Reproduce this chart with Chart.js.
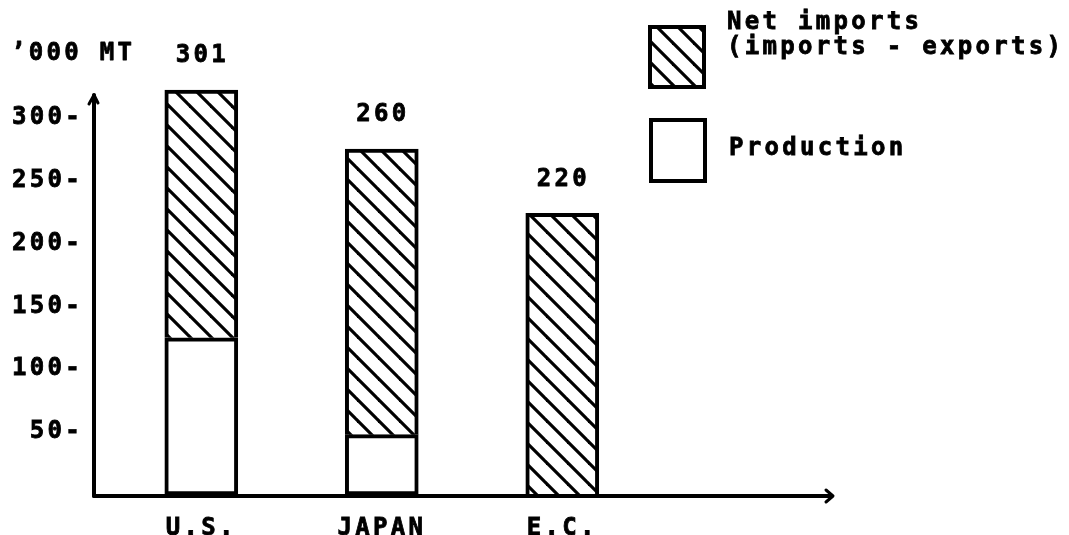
<!DOCTYPE html>
<html>
<head>
<meta charset="utf-8">
<title>Production and net imports</title>
<script src="https://cdn.jsdelivr.net/npm/chart.js@4.4.1/dist/chart.umd.min.js"></script>
<style>
  html, body { margin: 0; padding: 0; background: #fff; }
  canvas { display: block; }
</style>
</head>
<body>
<canvas id="chart" width="1069" height="535"></canvas>
<script>
// ==== Data ====
const categories = ["U.S.", "JAPAN", "E.C."];
const production = [125, 48, 0];
const netImports = [197, 227, 224];
const totalLabels = ["301", "260", "220"];
const yTicks = [50, 100, 150, 200, 250, 300];
const unitLabel = "’000 MT";
const legendNet = ["Net imports", "(imports - exports)"];
const legendProd = "Production";

// ==== Look ====
const FONT = "'DejaVu Sans Mono', 'Liberation Mono', monospace";
const FONT_SIZE = 24;
const SPACING = "3.3px";
const INK = "#000";
const LINE = 4;
const TEXT_STROKE = 0.8;

// diagonal "\\\" hatch used for the net imports
const hatch = (() => {
  const s = 21;
  const c = document.createElement("canvas");
  c.width = s; c.height = s;
  const g = c.getContext("2d");
  g.fillStyle = "#fff";
  g.fillRect(0, 0, s, s);
  g.strokeStyle = INK;
  g.lineWidth = 3.2;
  [-s, 0, s].forEach(x0 => {
    g.beginPath();
    g.moveTo(x0 - 4, -4);
    g.lineTo(x0 + s + 4, s + 4);
    g.stroke();
  });
  return g.createPattern(c, "repeat");
})();

const setSpacing = ctx => { if ("letterSpacing" in ctx) ctx.letterSpacing = SPACING; };

const text = (ctx, str, x, y, align) => {
  ctx.font = `bold ${FONT_SIZE}px ${FONT}`;
  ctx.fillStyle = INK;
  ctx.strokeStyle = INK;
  ctx.lineWidth = TEXT_STROKE;
  ctx.textAlign = align || "left";
  ctx.textBaseline = "middle";
  ctx.fillText(str, x, y);
  ctx.strokeText(str, x, y);
};

// ==== Axes with arrows, totals, unit and legend ====
const decorations = {
  id: "decorations",
  beforeLayout: chart => setSpacing(chart.ctx),
  beforeDraw: chart => setSpacing(chart.ctx),
  afterDatasetsDraw(chart) {
    const { ctx, chartArea: a } = chart;
    ctx.save();
    setSpacing(ctx);
    ctx.strokeStyle = INK;
    ctx.lineWidth = LINE;
    ctx.lineCap = "round";
    ctx.lineJoin = "round";

    // y axis
    const x0 = a.left + 1, y0 = a.bottom + 1, yTop = a.top + 15;
    ctx.beginPath();
    ctx.moveTo(x0, y0);
    ctx.lineTo(x0, yTop);
    ctx.stroke();
    ctx.lineWidth = 3;
    ctx.beginPath();
    ctx.moveTo(x0 - 5, yTop + 9);
    ctx.lineTo(x0, yTop);
    ctx.lineTo(x0 + 4, yTop + 8);
    ctx.stroke();

    // x axis
    const xEnd = a.right;
    ctx.lineWidth = LINE;
    ctx.beginPath();
    ctx.moveTo(x0, y0);
    ctx.lineTo(xEnd - 2, y0);
    ctx.stroke();
    ctx.lineWidth = 3;
    ctx.beginPath();
    ctx.moveTo(xEnd - 7, y0 - 6);
    ctx.lineTo(xEnd, y0);
    ctx.lineTo(xEnd - 7, y0 + 6);
    ctx.stroke();

    // totals above bars
    const top = chart.getDatasetMeta(1).data;
    top.forEach((bar, i) => text(ctx, totalLabels[i], bar.x + 1, bar.y - 34, "center"));

    // unit
    text(ctx, unitLabel, 11, 54);

    // legend
    ctx.strokeStyle = INK;
    ctx.lineWidth = LINE;
    ctx.lineCap = "butt";
    ctx.lineJoin = "miter";
    ctx.fillStyle = hatch;
    ctx.fillRect(649, 26, 56, 62);
    ctx.strokeRect(650, 27, 54, 60);
    ctx.fillStyle = "#fff";
    ctx.fillRect(650, 119, 56, 63);
    ctx.strokeRect(651, 120, 54, 61);
    text(ctx, legendNet[0], 727, 23);
    text(ctx, legendNet[1], 727, 48);
    text(ctx, legendProd, 729, 149);

    ctx.restore();
  }
};

// ==== Chart ====
const tickFont = { family: FONT, size: FONT_SIZE, weight: "bold" };

new Chart(document.getElementById("chart"), {
  type: "bar",
  data: {
    datasets: [
      {
        label: "Production",
        data: production.map((v, i) => ({ x: i, y: v })),
        backgroundColor: "#fff",
        borderColor: INK,
        borderWidth: LINE,
        borderSkipped: false,
        barThickness: 73
      },
      {
        label: "Net imports",
        data: netImports.map((v, i) => ({ x: i, y: v })),
        backgroundColor: hatch,
        borderColor: INK,
        borderWidth: LINE,
        borderSkipped: "start",
        barThickness: 73
      }
    ]
  },
  options: {
    responsive: false,
    animation: false,
    events: [],
    layout: { padding: { top: 80, right: 236, bottom: 0, left: 0 } },
    plugins: {
      legend: { display: false },
      title: { display: false },
      tooltip: { enabled: false }
    },
    scales: {
      x: {
        type: "linear",
        stacked: true,
        offset: false,
        min: -0.6,
        max: 3.5,
        grid: { display: false, offset: false },
        border: { display: false },
        afterBuildTicks: s => { s.ticks = categories.map((c, i) => ({ value: i })); },
        afterFit: s => { s.height = 40; },
        ticks: {
          color: INK,
          font: tickFont,
          textStrokeColor: INK,
          textStrokeWidth: TEXT_STROKE,
          padding: 11,
          maxRotation: 0,
          autoSkip: false,
          callback: v => categories[v]
        }
      },
      y: {
        stacked: true,
        min: 0,
        max: 330,
        grid: { display: false },
        border: { display: false },
        afterBuildTicks: s => { s.ticks = yTicks.map(v => ({ value: v })); },
        afterFit: s => { s.width = 93; },
        ticks: {
          color: INK,
          font: tickFont,
          textStrokeColor: INK,
          textStrokeWidth: TEXT_STROKE,
          padding: 2,
          callback: v => v + "-"
        }
      }
    }
  },
  plugins: [decorations]
});
</script>
</body>
</html>
